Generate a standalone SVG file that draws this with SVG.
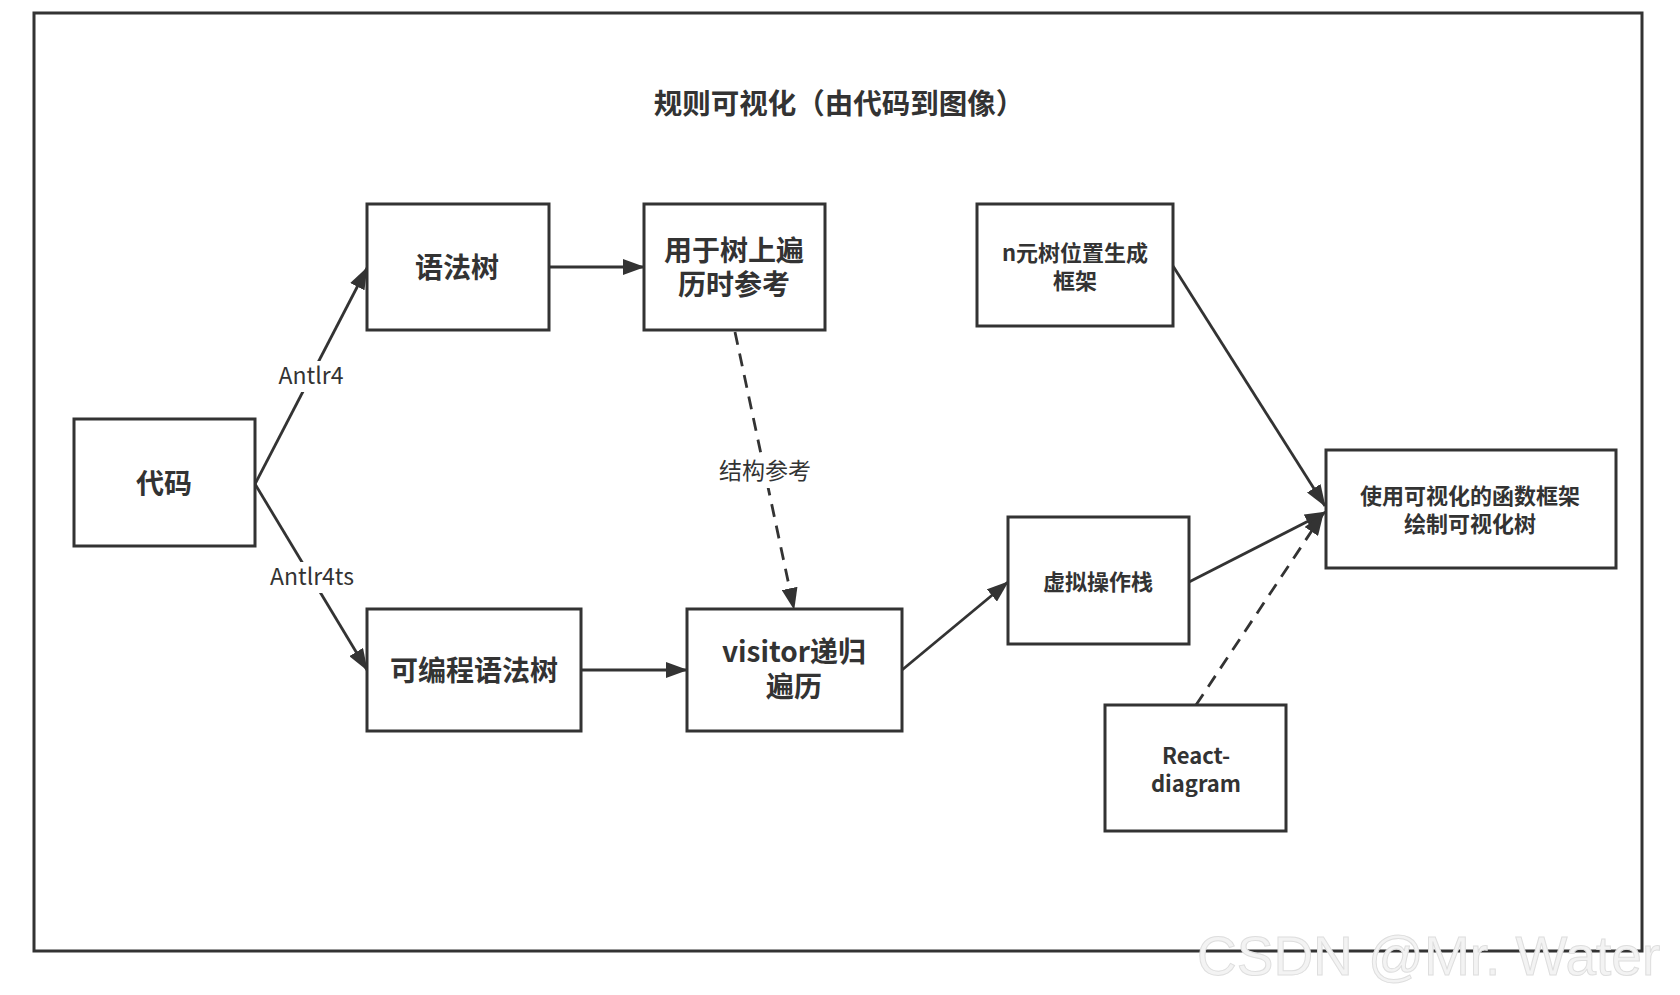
<svg xmlns="http://www.w3.org/2000/svg" width="1680" height="995" viewBox="0 0 1680 995">
<style>
.box{fill:#ffffff;stroke:#333333;stroke-width:3}
.t{font-family:"Noto Sans CJK SC","Microsoft YaHei",sans-serif;font-weight:bold;fill:#333333;text-anchor:middle}
.big{font-size:28px}
.sm{font-size:22px}
.lbl{font-family:"Noto Sans CJK SC","Microsoft YaHei",sans-serif;font-size:23px;fill:#333333;text-anchor:middle}
.c{fill:none;stroke:#333333;stroke-width:2.8}
.d{stroke-dasharray:13 9}
</style>
<defs>
<marker id="arr" markerUnits="userSpaceOnUse" markerWidth="22" markerHeight="16" refX="21" refY="8" orient="auto">
<path d="M0,0 L22,8 L0,16 z" fill="#333333"/>
</marker>
</defs>
<rect x="0" y="0" width="1680" height="995" fill="#ffffff"/>
<rect x="34" y="13" width="1608" height="938" fill="none" stroke="#333333" stroke-width="3"/>
<text class="t" x="839" y="114" font-size="28.5">规则可视化（由代码到图像）</text>

<g id="connectors">
<path class="c" d="M255,484 L367,268" marker-end="url(#arr)"/>
<path class="c" d="M255,484 L367,670" marker-end="url(#arr)"/>
<path class="c" d="M549,267 L644,267" marker-end="url(#arr)"/>
<path class="c d" d="M735,332 L794,609" marker-end="url(#arr)"/>
<path class="c" d="M581,670 L687,670" marker-end="url(#arr)"/>
<path class="c" d="M902,670 L1008,582" marker-end="url(#arr)"/>
<path class="c" d="M1189,582 L1326,512" marker-end="url(#arr)"/>
<path class="c" d="M1173,266 L1325,506" marker-end="url(#arr)"/>
<path class="c d" d="M1196,705 L1323,514" marker-end="url(#arr)"/>
<rect x="274" y="361" width="74" height="31" fill="#ffffff"/>
<text class="lbl" x="311" y="384">Antlr4</text>
<rect x="264" y="562" width="96" height="31" fill="#ffffff"/>
<text class="lbl" x="312" y="585">Antlr4ts</text>
<rect x="716" y="455" width="98" height="33" fill="#ffffff"/>
<text class="lbl" x="765" y="479">结构参考</text>
</g>

<g id="node-code">
<rect class="box" x="74" y="419" width="181" height="127"/>
<text class="t big" x="164" y="494">代码</text>
</g>
<g id="node-syntax-tree">
<rect class="box" x="367" y="204" width="182" height="126"/>
<text class="t big" x="457" y="278">语法树</text>
</g>
<g id="node-reference">
<rect class="box" x="644" y="204" width="181" height="126"/>
<text class="t big"><tspan x="734" y="261">用于树上遍</tspan><tspan x="734" y="295">历时参考</tspan></text>
</g>
<g id="node-ntree">
<rect class="box" x="977" y="204" width="196" height="122"/>
<text class="t sm"><tspan x="1075" y="261">n元树位置生成</tspan><tspan x="1075" y="289">框架</tspan></text>
</g>
<g id="node-prog-tree">
<rect class="box" x="367" y="609" width="214" height="122"/>
<text class="t big" x="474" y="681">可编程语法树</text>
</g>
<g id="node-visitor">
<rect class="box" x="687" y="609" width="215" height="122"/>
<text class="t big"><tspan x="794" y="662">visitor递归</tspan><tspan x="794" y="697">遍历</tspan></text>
</g>
<g id="node-stack">
<rect class="box" x="1008" y="517" width="181" height="127"/>
<text class="t sm" x="1098" y="590">虚拟操作栈</text>
</g>
<g id="node-draw">
<rect class="box" x="1326" y="450" width="290" height="118"/>
<text class="t sm"><tspan x="1470" y="504">使用可视化的函数框架</tspan><tspan x="1470" y="532">绘制可视化树</tspan></text>
</g>
<g id="node-react">
<rect class="box" x="1105" y="705" width="181" height="126"/>
<text class="t sm"><tspan x="1196" y="764">React-</tspan><tspan x="1196" y="792">diagram</tspan></text>
</g>

<text x="1197" y="975" font-family="Liberation Sans, Arial, sans-serif" font-size="55" fill="#f3f3f3" stroke="#dedede" stroke-width="1">CSDN @Mr. Water</text>
</svg>
